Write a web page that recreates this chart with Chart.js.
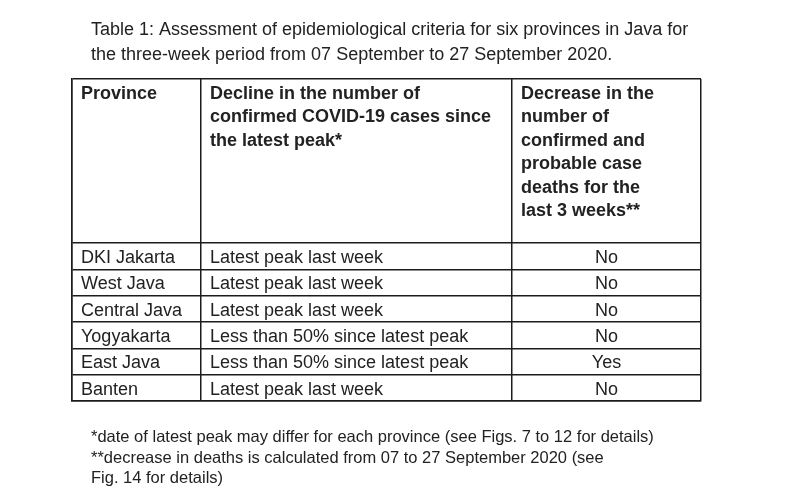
<!DOCTYPE html>
<html>
<head>
<meta charset="utf-8">
<script src="https://cdn.jsdelivr.net/npm/chart.js@4/dist/chart.umd.min.js"></script>
<style>
  html, body { margin: 0; padding: 0; background: #fff; }
  #wrap { width: 800px; height: 500px; }
</style>
</head>
<body>
<div id="wrap"><canvas id="table1" width="800" height="500"></canvas></div>
<script>
  const titleLines = [
    "Table 1: Assessment of epidemiological criteria for six provinces in Java for",
    "the three-week period from 07 September to 27 September 2020."
  ];
  const headerCells = [
    ["Province"],
    ["Decline in the number of", "confirmed COVID-19 cases since", "the latest peak*"],
    ["Decrease in the", "number of", "confirmed and", "probable case", "deaths for the", "last 3 weeks**"]
  ];
  const provinces = ["DKI Jakarta", "West Java", "Central Java", "Yogyakarta", "East Java", "Banten"];
  const caseDecline = [
    "Latest peak last week",
    "Latest peak last week",
    "Latest peak last week",
    "Less than 50% since latest peak",
    "Less than 50% since latest peak",
    "Latest peak last week"
  ];
  const deathDecrease = ["No", "No", "No", "No", "Yes", "No"];
  const footnotes = [
    "*date of latest peak may differ for each province (see Figs. 7 to 12 for details)",
    "**decrease in deaths is calculated from 07 to 27 September 2020 (see",
    "Fig. 14 for details)"
  ];

  // layout of the grid (scale units = px)
  const colEdges = [0, 129, 440, 629];
  const headerH = 164;
  const rowH = 26.33;
  const rowEdges = [0, headerH];
  provinces.forEach((p, i) => rowEdges.push(headerH + (i + 1) * rowH));

  const lineColor = "#1c1c1c";
  const textColor = "#222";
  const fontFamily = "'Liberation Sans', Arial, sans-serif";

  const tableText = {
    id: "tableText",
    afterDraw(chart) {
      const { ctx, scales: { x, y } } = chart;
      const left = x.getPixelForValue(0);
      const top = y.getPixelForValue(0);
      const bottom = y.getPixelForValue(rowEdges[rowEdges.length - 1]);
      ctx.save();
      ctx.fillStyle = textColor;
      ctx.textBaseline = "alphabetic";

      // caption
      ctx.font = "18px " + fontFamily;
      ctx.textAlign = "left";
      titleLines.forEach((t, i) => ctx.fillText(t, left + 19, top - 44 + i * 25));

      // header row
      ctx.font = "bold 18px " + fontFamily;
      headerCells.forEach((lines, c) => {
        const cx = x.getPixelForValue(colEdges[c]) + 9;
        lines.forEach((t, i) => ctx.fillText(t, cx, top + 20 + i * 23.4));
      });

      // body rows
      ctx.font = "18px " + fontFamily;
      provinces.forEach((p, r) => {
        const by = y.getPixelForValue(rowEdges[r + 1]) + 20;
        ctx.textAlign = "left";
        ctx.fillText(p, x.getPixelForValue(colEdges[0]) + 9, by);
        ctx.fillText(caseDecline[r], x.getPixelForValue(colEdges[1]) + 9, by);
        ctx.textAlign = "center";
        const mid = (x.getPixelForValue(colEdges[2]) + x.getPixelForValue(colEdges[3])) / 2;
        ctx.fillText(deathDecrease[r], mid, by);
      });

      // notes under the table
      ctx.font = "16.5px " + fontFamily;
      ctx.textAlign = "left";
      footnotes.forEach((t, i) => ctx.fillText(t, left + 19, bottom + 41 + i * 20.7));
      ctx.restore();
    }
  };

  new Chart(document.getElementById("table1"), {
    type: "scatter",
    data: { datasets: [] },
    options: {
      responsive: false,
      animation: false,
      layout: { padding: { left: 72, top: 79, right: 99, bottom: 99 } },
      plugins: { legend: { display: false }, tooltip: { enabled: false } },
      scales: {
        x: {
          type: "linear",
          min: colEdges[0],
          max: colEdges[colEdges.length - 1],
          afterBuildTicks: (scale) => { scale.ticks = colEdges.map(v => ({ value: v })); },
          ticks: { display: false },
          grid: { color: lineColor, lineWidth: 1.5, drawTicks: false },
          border: { display: true, color: lineColor, width: 1.5 }
        },
        y: {
          type: "linear",
          reverse: true,
          min: rowEdges[0],
          max: rowEdges[rowEdges.length - 1],
          afterBuildTicks: (scale) => { scale.ticks = rowEdges.map(v => ({ value: v })); },
          ticks: { display: false },
          grid: { color: lineColor, lineWidth: 1.5, drawTicks: false },
          border: { display: true, color: lineColor, width: 1.5 }
        }
      }
    },
    plugins: [tableText]
  });
</script>
</body>
</html>
